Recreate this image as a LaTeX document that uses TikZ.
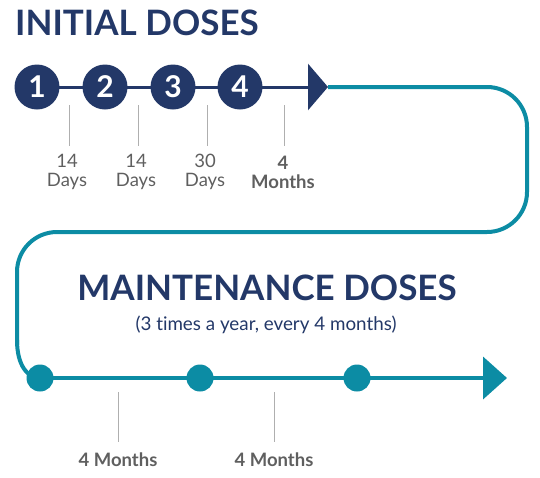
\documentclass[tikz,border=0pt]{standalone}
\usepackage{fontspec}
\setmainfont[Ligatures={NoCommon}]{Lato}
\usepackage{tikz}
\usetikzlibrary{arrows.meta}
\definecolor{dosenavy}{RGB}{35,56,104}
\definecolor{doseteal}{RGB}{12,140,164}
\definecolor{tickgray}{RGB}{175,175,175}
\definecolor{labgray}{RGB}{95,95,95}

\begin{document}
\begin{tikzpicture}[x=1pt, y=-1pt,
  navydot/.style={circle, fill=dosenavy, minimum size=45pt, inner sep=0pt, text=white, font=\fontsize{30}{30}\selectfont\bfseries},
  tealdot/.style={circle, fill=doseteal, minimum size=27pt, inner sep=0pt},
  navyline/.style={draw=dosenavy, line width=3pt},
  tealline/.style={draw=doseteal, line width=4pt},
  tickline/.style={draw=tickgray, line width=1pt},
  daylab/.style={align=center, text=labgray, font=\fontsize{18.5}{19}\selectfont},
  monlab/.style={align=center, text=labgray, font=\fontsize{18.5}{19}\selectfont\bfseries},
  head/.style={text=dosenavy, font=\fontsize{35}{35}\selectfont\bfseries, inner sep=0pt}
]
\useasboundingbox (0,0) rectangle (540,477);
\node[head, anchor=base west] at (15,35) (initial) {INITIAL DOSES};
\node[head, anchor=base] at (267,300) (maint) {MAINTENANCE DOSES};
\node[text=dosenavy, font=\fontsize{18.8}{18.8}\selectfont, anchor=base] at (266,330) (often) {(3 times a year, every 4 months)};
\coordinate (tipA) at (328,87);
\coordinate (tipB) at (507,378);
\coordinate (bend) at (17,345);
\draw[tealline, rounded corners=40pt] (tipA) -- (527,87) -- (527,232) -- (17,232) -- (bend);
\draw[tealline] (17,340) .. controls (17,366) and (28,378) .. (40,378);
\draw[navyline, -{Triangle[length=20pt,width=46pt]}] (37,87) -- (tipA);
\node[navydot] at (37,87) (d1) {1};
\node[navydot] at (105,87) (d2) {2};
\node[navydot] at (173,87) (d3) {3};
\node[navydot] at (240,87) (d4) {4};
\draw[tealline, -{Triangle[length=24pt,width=42pt]}] (40,378) -- (tipB);
\node[tealdot] at (40,378) (m1) {};
\node[tealdot] at (200,378) (m2) {};
\node[tealdot] at (357,378) (m3) {};
\foreach \x in {69,138,207,284} \draw[tickline] (\x,105) -- (\x,146);
\foreach \x in {118,274} \draw[tickline] (\x,392) -- (\x,442);
\node[daylab] at (67,172) (gap1) {14\\Days};
\node[daylab] at (136,172) (gap2) {14\\Days};
\node[daylab] at (205,172) (gap3) {30\\Days};
\node[monlab] at (283,172) (gap4) {4\\Months};
\node[monlab] at (118,460) (gap5) {4 Months};
\node[monlab] at (274,460) (gap6) {4 Months};
\end{tikzpicture}
\end{document}
